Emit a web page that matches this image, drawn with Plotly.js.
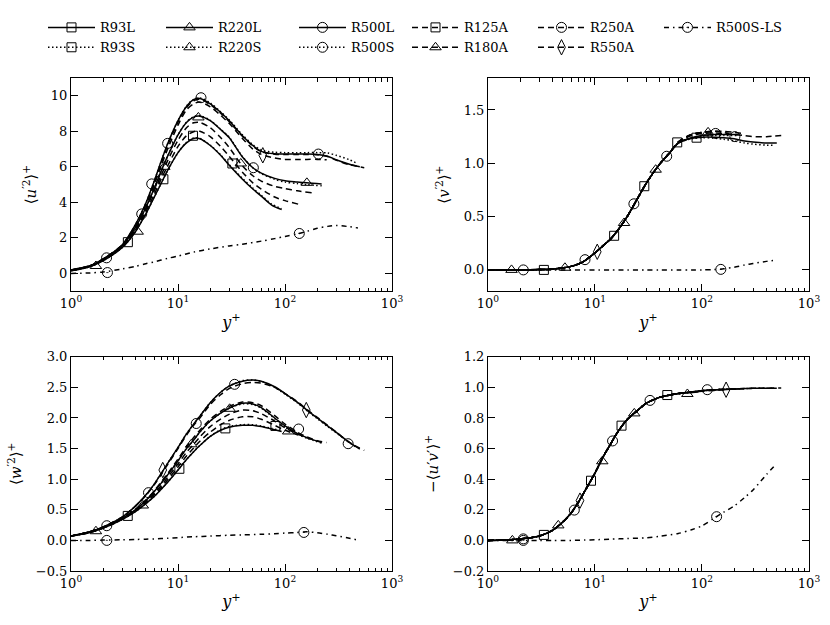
<!DOCTYPE html>
<html><head><meta charset="utf-8">
<script src="https://cdn.plot.ly/plotly-3.0.1.min.js"></script>
<style>html,body{margin:0;padding:0;background:#fff}</style>
</head><body><div id="c" style="width:830px;height:625px"></div>
<script>
// ---- wall-normal coordinates (y+) of each series ----
const X93  = [1,1.5,2,3,4,5,6,7,8,10,12,14,16,20,25,30,40,50,60,75,93];
const X125 = [1,1.5,2,3,4,5,6,7,8,10,12,14,16,20,25,30,40,50,60,80,100,133];
const X180 = [1,1.5,2,3,4,5,6,7,8,10,12,14,16,20,25,30,40,50,60,80,100,130,178];
const X220 = [1,1.5,2,3,4,5,6,7,8,10,12,14,16,20,25,30,40,50,60,80,100,130,160,220];
const X250 = [1,1.5,2,3,4,5,6,7,8,10,12,14,16,20,25,30,40,50,60,80,100,130,160,200,245];
const X500 = [1,1.5,2,3,4,5,6,7,8,10,12,14,16,20,25,30,40,50,60,80,100,130,160,200,250,300,400,500];
const X500S= [1,1.5,2,3,4,5,6,7,8,10,12,14,16,20,25,30,40,50,60,80,100,130,160,200,250,300,400,470];
const X550 = [1,1.5,2,3,4,5,6,7,8,10,12,14,16,20,25,30,40,50,60,80,100,130,160,200,250,300,400,550];
const XLS  = [1,1.5,2,3,4,5,6,8,10,14,20,30,40,60,80,100,130,160,200,250,300,400,480];

// ---- <u'^2>+ (top left) ----
const uuR93L = [0.15,0.38,0.72,1.45,2.35,3.35,4.3,5.1,5.8,6.8,7.35,7.6,7.58,7.2,6.65,6.1,5.3,4.75,4.35,3.85,3.6];
const uuR93S = [0.15,0.38,0.72,1.45,2.35,3.35,4.3,5.1,5.8,6.8,7.38,7.63,7.6,7.22,6.68,6.13,5.35,4.8,4.4,3.9,3.65];
const uuR125A= [0.17,0.39,0.74,1.5,2.45,3.48,4.45,5.35,6.05,7.15,7.75,7.98,8.0,7.7,7.15,6.6,5.7,5.1,4.75,4.3,4.1,3.9];
const uuR180A= [0.18,0.4,0.76,1.52,2.52,3.6,4.65,5.55,6.35,7.5,8.2,8.48,8.5,8.2,7.65,7.1,6.05,5.5,5.2,4.9,4.78,4.65,4.54];
const uuR220L= [0.18,0.41,0.78,1.55,2.6,3.7,4.8,5.8,6.6,7.8,8.5,8.8,8.85,8.6,8.1,7.65,6.55,5.95,5.65,5.35,5.22,5.15,5.1,5.04];
const uuR220S= [0.18,0.41,0.78,1.55,2.6,3.7,4.8,5.8,6.6,7.8,8.52,8.83,8.88,8.62,8.12,7.68,6.58,5.95,5.62,5.3,5.14,5.06,5.0,4.93];
const uuR250A= [0.2,0.42,0.8,1.58,2.68,3.85,5.0,6.1,7.0,8.35,9.2,9.55,9.65,9.38,8.9,8.45,7.6,7.0,6.7,6.5,6.42,6.42,6.42,6.42,6.4];
const uuR500L= [0.2,0.43,0.82,1.6,2.75,3.95,5.2,6.35,7.3,8.6,9.4,9.78,9.85,9.55,9.07,8.6,7.75,7.2,6.87,6.73,6.72,6.72,6.72,6.7,6.6,6.4,6.15,6.0];
const uuR500S= [0.2,0.43,0.82,1.6,2.75,3.95,5.2,6.35,7.3,8.6,9.42,9.8,9.88,9.6,9.1,8.65,7.8,7.25,6.95,6.82,6.8,6.8,6.8,6.8,6.78,6.65,6.4,6.2];
const uuR550A= [0.2,0.43,0.82,1.6,2.72,3.9,5.12,6.25,7.2,8.52,9.33,9.72,9.8,9.5,9.02,8.55,7.72,7.17,6.85,6.71,6.7,6.7,6.7,6.68,6.58,6.38,6.12,5.95];
const uuLS   = [0.0,0.03,0.08,0.25,0.4,0.55,0.65,0.85,0.98,1.2,1.38,1.55,1.65,1.82,1.96,2.08,2.23,2.37,2.54,2.65,2.7,2.63,2.56];
const uuSq  = [[3.4,1.76],[7.3,5.3],[13.8,7.75],[32.2,6.19]];
const uuTri = [[1.71,0.42],[4.2,2.35],[7.45,6.0],[15.5,8.78],[38.6,6.19],[160,5.1]];
const uuCir = [[2.15,0.88],[4.58,3.35],[5.68,5.04],[8.0,7.32],[16.4,9.89],[50.6,5.95],[205,6.72]];
const uuDia = [[62,6.65]];
const uuLSm = [[2.19,0.05],[136,2.25]];

// ---- <v'^2>+ (top right) ----
const vvR93L = [0,0,0,0.003,0.008,0.018,0.033,0.055,0.085,0.16,0.23,0.29,0.36,0.5,0.67,0.81,0.99,1.1,1.19,1.23,1.25];
const vvR93S = [0,0,0,0.003,0.008,0.018,0.033,0.055,0.085,0.16,0.23,0.29,0.36,0.5,0.67,0.81,0.99,1.1,1.19,1.23,1.24];
const vvR125A= [0,0,0,0.003,0.008,0.018,0.033,0.055,0.085,0.16,0.23,0.29,0.36,0.5,0.67,0.81,0.99,1.1,1.2,1.27,1.29,1.3];
const vvR180A= [0,0,0,0.003,0.008,0.018,0.033,0.055,0.085,0.16,0.23,0.29,0.36,0.5,0.67,0.81,0.99,1.1,1.2,1.27,1.29,1.3,1.28];
const vvR220L= [0,0,0,0.003,0.008,0.018,0.033,0.055,0.085,0.16,0.23,0.29,0.36,0.5,0.67,0.81,0.99,1.1,1.19,1.24,1.26,1.27,1.27,1.27];
const vvR220S= [0,0,0,0.003,0.008,0.018,0.033,0.055,0.085,0.16,0.23,0.29,0.36,0.5,0.67,0.81,0.99,1.1,1.19,1.24,1.255,1.26,1.26,1.26];
const vvR250A= [0,0,0,0.003,0.008,0.018,0.033,0.055,0.085,0.16,0.23,0.29,0.36,0.5,0.67,0.81,0.99,1.1,1.2,1.27,1.29,1.3,1.3,1.29,1.28];
const vvR500L= [0,0,0,0.003,0.008,0.018,0.033,0.055,0.085,0.16,0.23,0.29,0.36,0.5,0.67,0.81,0.99,1.1,1.19,1.235,1.245,1.245,1.24,1.23,1.21,1.2,1.19,1.19];
const vvR500S= [0,0,0,0.003,0.008,0.018,0.033,0.055,0.085,0.16,0.23,0.29,0.36,0.5,0.67,0.81,0.99,1.1,1.19,1.23,1.24,1.235,1.225,1.21,1.19,1.18,1.17,1.17];
const vvR550A= [0,0,0,0.003,0.008,0.018,0.033,0.055,0.085,0.16,0.23,0.29,0.36,0.5,0.67,0.81,0.99,1.1,1.2,1.26,1.28,1.285,1.28,1.27,1.26,1.25,1.25,1.26];
const vvLS   = [0,0,0,0,0,0,0,0,0,0,0,0,0,0,0,0,0.003,0.01,0.025,0.045,0.06,0.08,0.09];
const vvSq  = [[3.33,0.0],[15.1,0.32],[28.9,0.785],[58.7,1.196],[89,1.24]];
const vvTri = [[1.66,0.0],[5.24,0.02],[18.7,0.44],[36.9,0.94],[114,1.29]];
const vvCir = [[2.14,0.0],[8.07,0.096],[23.1,0.62],[46.8,1.066],[134,1.28],[203,1.25]];
const vvDia = [[10.5,0.17]];
const vvLSm = [[150,0.005]];

// ---- <w'^2>+ (bottom left) ----
const wwR93L = [0.07,0.13,0.2,0.34,0.47,0.6,0.72,0.84,0.95,1.15,1.32,1.45,1.55,1.7,1.8,1.85,1.88,1.88,1.86,1.82,1.78];
const wwR93S = [0.07,0.13,0.2,0.34,0.47,0.6,0.72,0.84,0.95,1.15,1.32,1.45,1.55,1.7,1.81,1.86,1.89,1.89,1.87,1.83,1.79];
const wwR125A= [0.07,0.13,0.2,0.35,0.48,0.62,0.75,0.87,0.99,1.2,1.38,1.51,1.62,1.77,1.89,1.96,2.02,2.02,1.98,1.88,1.8,1.72];
const wwR180A= [0.07,0.13,0.2,0.35,0.49,0.63,0.77,0.9,1.03,1.25,1.44,1.57,1.69,1.86,1.98,2.06,2.13,2.12,2.07,1.95,1.84,1.74,1.65];
const wwR220L= [0.07,0.14,0.21,0.36,0.5,0.65,0.8,0.94,1.07,1.3,1.5,1.64,1.77,1.95,2.08,2.16,2.24,2.23,2.17,2.0,1.87,1.75,1.68,1.6];
const wwR220S= [0.07,0.14,0.21,0.36,0.5,0.65,0.8,0.94,1.07,1.3,1.5,1.64,1.77,1.95,2.08,2.16,2.23,2.22,2.16,1.99,1.86,1.74,1.67,1.59];
const wwR250A= [0.07,0.14,0.21,0.36,0.51,0.66,0.81,0.96,1.09,1.33,1.53,1.68,1.8,1.98,2.11,2.19,2.26,2.25,2.2,2.04,1.9,1.77,1.69,1.63,1.6];
const wwR500L= [0.07,0.14,0.22,0.38,0.56,0.74,0.92,1.1,1.26,1.52,1.74,1.9,2.03,2.25,2.42,2.52,2.6,2.62,2.6,2.51,2.4,2.26,2.13,2.0,1.87,1.77,1.6,1.49];
const wwR500S= [0.07,0.14,0.22,0.38,0.56,0.74,0.92,1.1,1.26,1.52,1.74,1.9,2.03,2.25,2.42,2.52,2.61,2.62,2.6,2.5,2.39,2.25,2.12,1.99,1.86,1.76,1.6,1.51];
const wwR550A= [0.07,0.14,0.22,0.38,0.56,0.73,0.91,1.08,1.24,1.5,1.72,1.88,2.0,2.22,2.38,2.48,2.56,2.58,2.57,2.5,2.4,2.27,2.14,2.01,1.88,1.77,1.6,1.47];
const wwLS   = [0,0,0.005,0.01,0.015,0.02,0.025,0.035,0.045,0.06,0.07,0.085,0.09,0.1,0.11,0.12,0.13,0.14,0.125,0.1,0.075,0.035,0.005];
const wwSq  = [[3.39,0.4],[10.3,1.17],[27.7,1.83],[81.3,1.87]];
const wwTri = [[1.71,0.15],[4.69,0.57],[13.3,1.57],[30.4,2.15],[107,1.78]];
const wwCir = [[2.16,0.24],[5.3,0.78],[14.8,1.91],[33.8,2.55],[134,1.82],[389,1.58]];
const wwDia = [[7.2,1.15],[158,2.13]];
const wwLSm = [[2.16,0.0],[150,0.13]];

// ---- -<u'v'>+ (bottom right) ----
const uvR93L = [0,0.003,0.01,0.028,0.065,0.12,0.18,0.25,0.32,0.44,0.55,0.63,0.7,0.79,0.85,0.895,0.935,0.95,0.96,0.965,0.97];
const uvR93S = [0,0.003,0.01,0.028,0.065,0.12,0.18,0.25,0.32,0.44,0.55,0.63,0.7,0.79,0.85,0.895,0.935,0.95,0.96,0.965,0.97];
const uvR125A= [0,0.003,0.01,0.028,0.065,0.12,0.18,0.25,0.32,0.44,0.55,0.63,0.7,0.79,0.85,0.895,0.935,0.95,0.96,0.97,0.975,0.98];
const uvR180A= [0,0.003,0.01,0.028,0.065,0.12,0.18,0.25,0.32,0.44,0.55,0.63,0.7,0.79,0.85,0.895,0.935,0.95,0.96,0.97,0.978,0.983,0.987];
const uvR220L= [0,0.003,0.01,0.028,0.065,0.12,0.18,0.25,0.32,0.44,0.55,0.63,0.7,0.79,0.85,0.895,0.935,0.95,0.96,0.97,0.978,0.984,0.987,0.99];
const uvR220S= [0,0.003,0.01,0.028,0.065,0.12,0.18,0.25,0.32,0.44,0.55,0.63,0.7,0.79,0.85,0.895,0.935,0.95,0.96,0.97,0.978,0.984,0.987,0.99];
const uvR250A= [0,0.003,0.01,0.028,0.065,0.12,0.18,0.25,0.32,0.44,0.55,0.63,0.7,0.79,0.85,0.895,0.935,0.95,0.96,0.97,0.978,0.984,0.987,0.99,0.991];
const uvR500L= [0,0.003,0.01,0.028,0.065,0.12,0.18,0.25,0.32,0.44,0.55,0.63,0.7,0.79,0.85,0.895,0.935,0.95,0.96,0.97,0.978,0.984,0.987,0.99,0.992,0.994,0.995,0.995];
const uvR500S= [0,0.003,0.01,0.028,0.065,0.12,0.18,0.25,0.32,0.44,0.55,0.63,0.7,0.79,0.85,0.895,0.935,0.95,0.96,0.97,0.978,0.984,0.987,0.99,0.992,0.994,0.995,0.995];
const uvR550A= [0,0.003,0.01,0.028,0.065,0.12,0.18,0.25,0.32,0.44,0.55,0.63,0.7,0.79,0.85,0.895,0.935,0.95,0.96,0.97,0.978,0.984,0.987,0.99,0.992,0.994,0.995,0.996];
const uvLS   = [0,0,0,0,0,0,0,0.002,0.004,0.008,0.012,0.017,0.027,0.045,0.07,0.095,0.145,0.185,0.225,0.28,0.33,0.43,0.49];
const uvSq  = [[3.33,0.036],[9.18,0.39],[17.7,0.75],[47.4,0.95]];
const uvTri = [[1.69,0.0],[4.54,0.098],[11.7,0.517],[23.3,0.83],[73,0.957]];
const uvCir = [[2.14,0.01],[6.41,0.198],[14.6,0.65],[32.7,0.915],[112,0.985]];
const uvDia = [[7.24,0.26],[168,0.985]];
const uvLSm = [[2.14,0.0],[137,0.155]];

// ---- tick labels ----
const xTickVals = [1,10,100,1000];
const xTickText = ['10<sup>0</sup>','10<sup>1</sup>','10<sup>2</sup>','10<sup>3</sup>'];
const xMinorVals = [2,3,4,5,6,7,8,9,20,30,40,50,60,70,80,90,200,300,400,500,600,700,800,900];

// ---- styles ----
const DASH = {solid:'solid', dot:'1.5px,2.5px', dash:'6px,4px', dashdot:'5px,4px,1.5px,4px'};
const SYM = {sq:'square-open', tri:'triangle-up-open', cir:'circle-open', dia:'diamond-tall-open', ls:'circle-open-dot'};
const SIZE = {sq:9, tri:10, cir:10, dia:11, ls:10};
const series = [
  {name:'R93L', x:X93,  dash:'solid', m:'sq', lg:'legend'},
  {name:'R93S', x:X93,  dash:'dot',   m:'sq', lg:'legend'},
  {name:'R220L',x:X220, dash:'solid', m:'tri',lg:'legend2'},
  {name:'R220S',x:X220, dash:'dot',   m:'tri',lg:'legend2'},
  {name:'R500L',x:X500, dash:'solid', m:'cir',lg:'legend3'},
  {name:'R500S',x:X500S,dash:'dot',   m:'cir',lg:'legend3'},
  {name:'R125A',x:X125, dash:'dash',  m:'sq', lg:'legend4'},
  {name:'R180A',x:X180, dash:'dash',  m:'tri',lg:'legend4'},
  {name:'R250A',x:X250, dash:'dash',  m:'cir',lg:'legend5'},
  {name:'R550A',x:X550, dash:'dash',  m:'dia',lg:'legend5'},
  {name:'R500S-LS',x:XLS,dash:'dashdot',m:'ls',lg:'legend6'}
];
const panels = [
  {xa:'x', ya:'y',  d:{R93L:uuR93L,R93S:uuR93S,R125A:uuR125A,R180A:uuR180A,R220L:uuR220L,R220S:uuR220S,R250A:uuR250A,R500L:uuR500L,R500S:uuR500S,R550A:uuR550A,'R500S-LS':uuLS},
   mk:{sq:uuSq,tri:uuTri,cir:uuCir,dia:uuDia,ls:uuLSm}},
  {xa:'x2',ya:'y2', d:{R93L:vvR93L,R93S:vvR93S,R125A:vvR125A,R180A:vvR180A,R220L:vvR220L,R220S:vvR220S,R250A:vvR250A,R500L:vvR500L,R500S:vvR500S,R550A:vvR550A,'R500S-LS':vvLS},
   mk:{sq:vvSq,tri:vvTri,cir:vvCir,dia:vvDia,ls:vvLSm}},
  {xa:'x3',ya:'y3', d:{R93L:wwR93L,R93S:wwR93S,R125A:wwR125A,R180A:wwR180A,R220L:wwR220L,R220S:wwR220S,R250A:wwR250A,R500L:wwR500L,R500S:wwR500S,R550A:wwR550A,'R500S-LS':wwLS},
   mk:{sq:wwSq,tri:wwTri,cir:wwCir,dia:wwDia,ls:wwLSm}},
  {xa:'x4',ya:'y4', d:{R93L:uvR93L,R93S:uvR93S,R125A:uvR125A,R180A:uvR180A,R220L:uvR220L,R220S:uvR220S,R250A:uvR250A,R500L:uvR500L,R500S:uvR500S,R550A:uvR550A,'R500S-LS':uvLS},
   mk:{sq:uvSq,tri:uvTri,cir:uvCir,dia:uvDia,ls:uvLSm}}
];

const traces = [];
panels.forEach(p => {
  series.forEach(s => {
    traces.push({type:'scatter', mode:'lines', x:s.x, y:p.d[s.name], xaxis:p.xa, yaxis:p.ya,
      line:{color:'#000', width:1.5, dash:DASH[s.dash], shape:'spline', smoothing:0.8},
      showlegend:false, hoverinfo:'skip'});
  });
  Object.keys(p.mk).forEach(k => {
    const pts = p.mk[k];
    traces.push({type:'scatter', mode:'markers', x:pts.map(q=>q[0]), y:pts.map(q=>q[1]), xaxis:p.xa, yaxis:p.ya,
      marker:{symbol:SYM[k], size:SIZE[k], color:'#000', line:{width:1, color:'#000'}},
      showlegend:false, hoverinfo:'skip'});
  });
});
// legend entries
series.forEach(s => {
  traces.push({type:'scatter', mode:'lines+markers', x:[null], y:[null], name:s.name, legend:s.lg,
    line:{color:'#000', width:1.5, dash:DASH[s.dash]},
    marker:{symbol:SYM[s.m], size:SIZE[s.m], color:'#000', line:{width:1, color:'#000'}},
    showlegend:true});
});

const FONT = 'DejaVu Serif';
function xax(domain, anchor) {
  return {type:'log', domain:domain, anchor:anchor, range:[0,3], tickmode:'array', tickvals:xTickVals, ticktext:xTickText,
    ticks:'inside', ticklen:7, tickwidth:1, tickcolor:'#000', mirror:'allticks', showline:true, linecolor:'#000', linewidth:1,
    showgrid:false, zeroline:false, tickfont:{family:FONT, size:13, color:'#000'},
    minor:{tickmode:'array', tickvals:xMinorVals, ticks:'inside', ticklen:3.5, tickwidth:1, tickcolor:'#000', showgrid:false},
    title:{text:'<i>y</i><sup>+</sup>', font:{family:FONT, size:16, color:'#000'}, standoff:6}};
}
function yax(domain, anchor, range, tv, fmt, title) {
  const o = {domain:domain, anchor:anchor, range:range, tickmode:'array', tickvals:tv,
    ticks:'inside', ticklen:7, tickwidth:1, tickcolor:'#000', mirror:'allticks', showline:true, linecolor:'#000', linewidth:1,
    showgrid:false, zeroline:false, tickfont:{family:FONT, size:13, color:'#000'},
    title:{text:title, font:{family:FONT, size:15, color:'#000'}, standoff:10}};
  if (fmt) o.tickformat = fmt;
  return o;
}
const XL = [0, 0.435], XR = [0.565, 1], YT = [0.5675, 1], YB = [0, 0.4345];
function leg(xpx) {
  return {x:(xpx-71)/738, y:1.133, xanchor:'left', yanchor:'top', orientation:'v', bgcolor:'rgba(0,0,0,0)',
    borderwidth:0, itemwidth:47, tracegroupgap:0, font:{size:13, color:'#000', family:FONT}, itemclick:false, itemdoubleclick:false};
}
const layout = {
  width:830, height:625, margin:{l:71, r:21, t:64, b:54}, paper_bgcolor:'#fff', plot_bgcolor:'#fff',
  font:{family:FONT, color:'#000', size:13},
  xaxis: xax(XL,'y'), xaxis2: xax(XR,'y2'), xaxis3: xax(XL,'y3'), xaxis4: xax(XR,'y4'),
  yaxis: yax(YT,'x',[-1,11],[0,2,4,6,8,10],null,'⟨<i>u</i><sup>′2</sup>⟩<sup>+</sup>'),
  yaxis2: yax(YT,'x2',[-0.2,1.8],[0,0.5,1,1.5],'.1f','⟨<i>v</i><sup>′2</sup>⟩<sup>+</sup>'),
  yaxis3: yax(YB,'x3',[-0.5,3],[-0.5,0,0.5,1,1.5,2,2.5,3],'.1f','⟨<i>w</i><sup>′2</sup>⟩<sup>+</sup>'),
  yaxis4: yax(YB,'x4',[-0.2,1.2],[-0.2,0,0.2,0.4,0.6,0.8,1.0,1.2],'.1f','−⟨<i>u</i>′<i>v</i>′⟩<sup>+</sup>'),
  legend: leg(43), legend2: leg(161), legend3: leg(294), legend4: leg(407), legend5: leg(533), legend6: leg(659),
  showlegend:true
};
Plotly.newPlot('c', traces, layout, {staticPlot:true});
</script></body></html>
